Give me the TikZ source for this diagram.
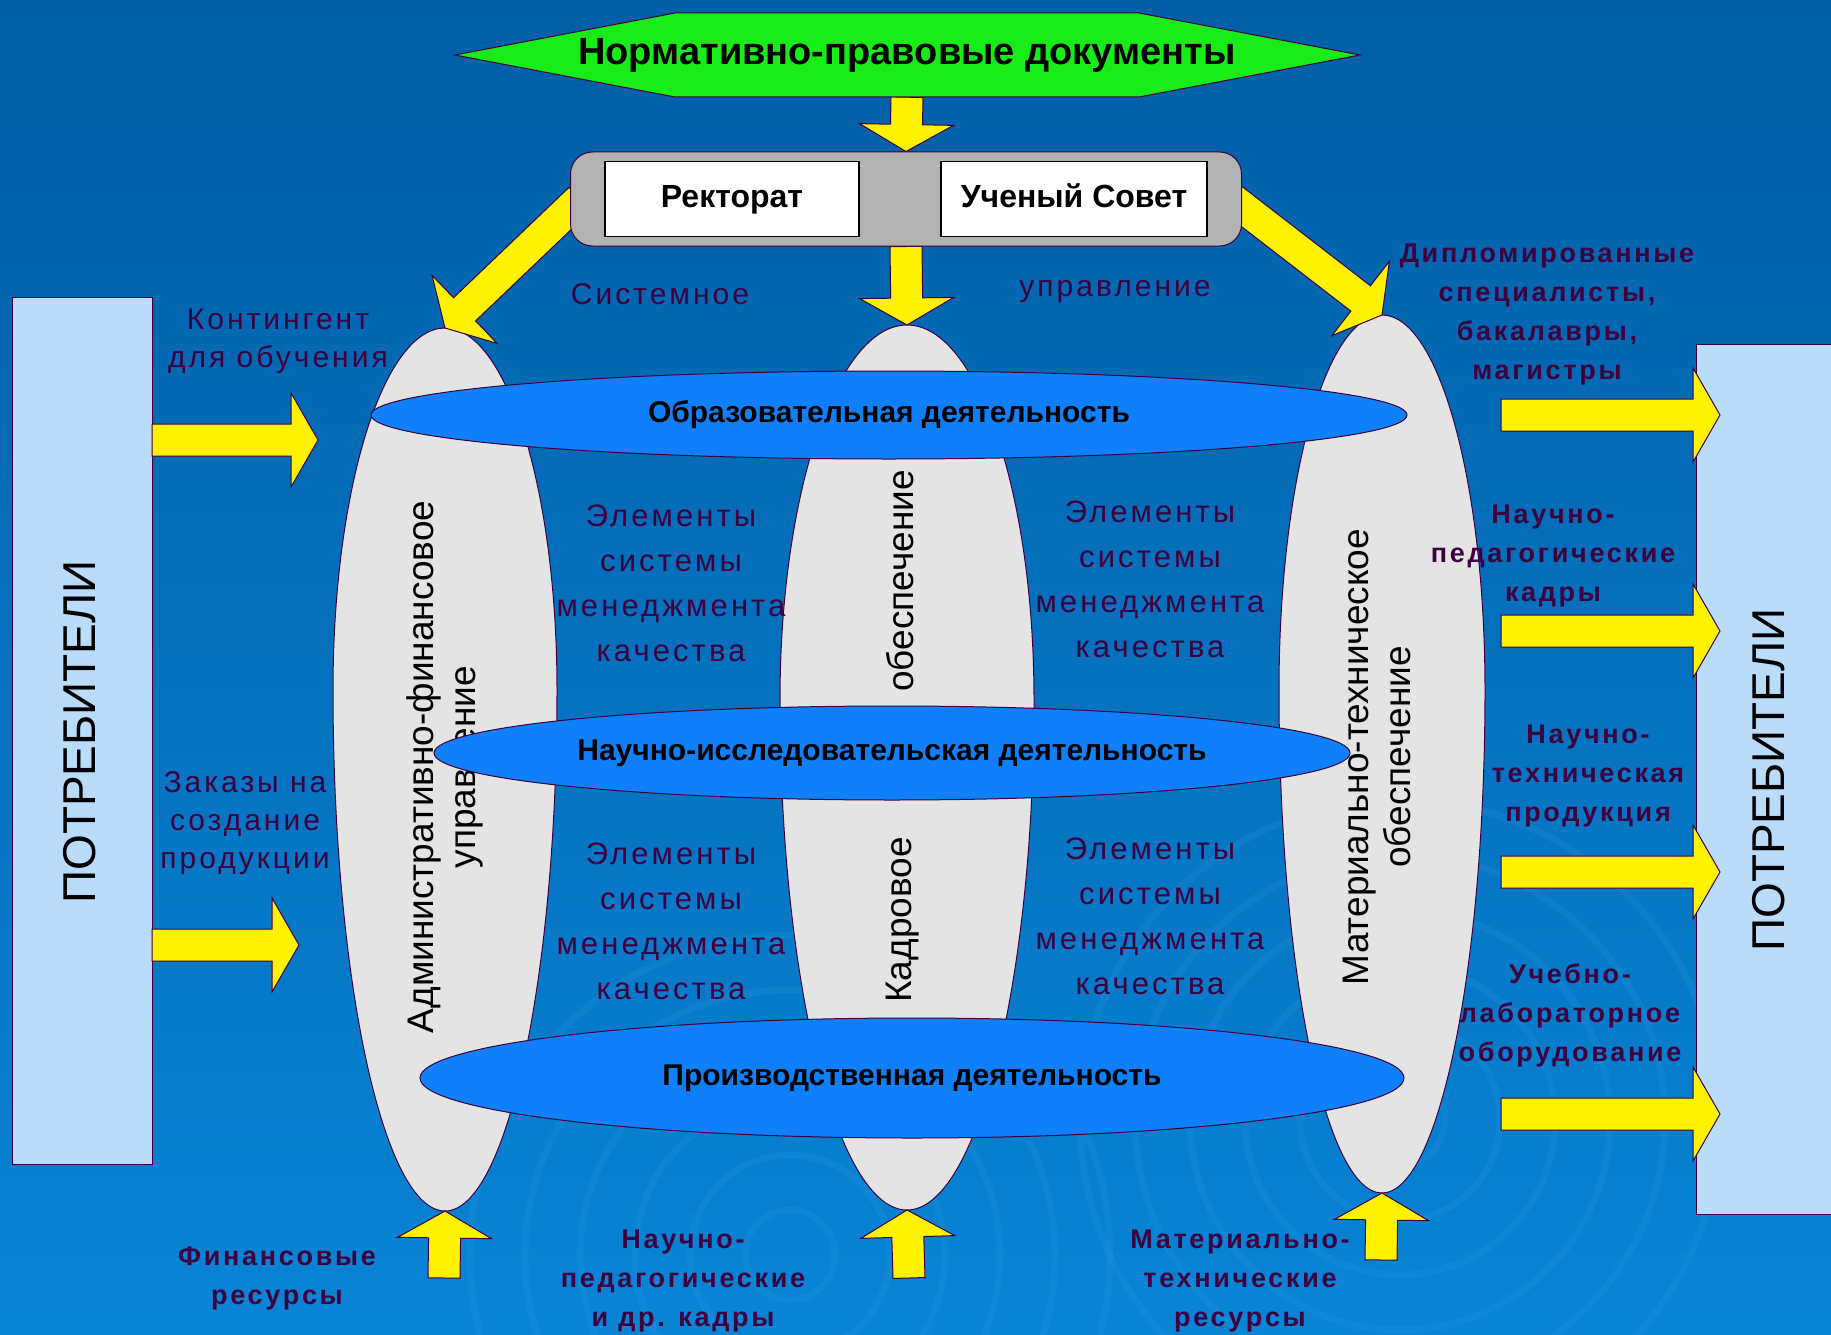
\documentclass[tikz,border=0pt]{standalone}
\usepackage{fontspec}
\setmainfont{Liberation Sans}
\newfontfamily\spaced[LetterSpace=10]{Liberation Sans}
\usetikzlibrary{shapes.geometric,calc}

\definecolor{bgtop}{RGB}{0,94,166}
\definecolor{bgbot}{RGB}{8,132,214}
\definecolor{outline}{RGB}{60,0,60}
\definecolor{labeltext}{RGB}{62,0,62}
\definecolor{consumerblue}{RGB}{184,220,250}
\definecolor{eggfill}{RGB}{228,228,228}
\definecolor{activityblue}{RGB}{16,128,250}
\definecolor{normgreen}{RGB}{24,236,24}
\definecolor{boardgray}{RGB}{178,178,178}
\definecolor{ripplecol}{RGB}{60,160,235}

\pgfdeclarelayer{front}
\pgfsetlayers{main,front}

\newcommand{\fsz}[2]{\fontsize{#1}{#2}\selectfont}

% fat arrow between two points
\newcommand{\blockarrow}[2]{%
  \draw[blockarrow] let \p1=(#1), \p2=(#2),
      \n1={atan2(\y2-\y1,\x2-\x1)}, \n2={veclen(\x2-\x1,\y2-\y1)} in
    [shift={(\p1)}, rotate=\n1]
    (0pt,16pt) -- ({\n2-27pt},16pt) -- ({\n2-27pt},47pt) -- (\n2,0pt)
    -- ({\n2-27pt},-47pt) -- ({\n2-27pt},-16pt) -- (0pt,-16pt) -- cycle;}

% egg: name, x, top, widest y, bottom, half width
\newcommand{\egg}[6]{%
  \draw[egg] (#2-#6,#4) arc[start angle=180, end angle=360, x radius=#6, y radius=#4-#3]
    arc[start angle=0, end angle=180, x radius=#6, y radius=#5-#4] -- cycle;
  \coordinate (#1-n) at (#2,#3);
  \coordinate (#1-s) at (#2,#5);}

\begin{document}
\begin{tikzpicture}[
    x=1pt, y=-1pt,
    lbl/.style={text=labeltext, align=center, font={\spaced\fsz{30}{38}}},
    blbl/.style={lbl, font={\spaced\bfseries\fsz{27}{39}}},
    elem/.style={lbl, font={\spaced\fsz{31}{45}}},
    vert/.style={rotate=90, align=center, font={\fsz{37}{42}}},
    consumer/.style={draw=outline, fill=consumerblue},
    consumer text/.style={rotate=90, font={\fsz{46}{50}}},
    egg/.style={draw=outline, fill=eggfill, line width=1pt},
    activity/.style={ellipse, draw=outline, fill=activityblue, line width=1pt,
                     inner sep=0pt, font={\bfseries\fsz{30}{36}}},
    office/.style={draw=black, line width=1.5pt, fill=white, text height=23pt, text depth=7pt,
                   font={\bfseries\fsz{32}{38}}},
    board/.style={draw=outline, fill=boardgray, rounded corners=22pt, line width=1pt},
    normshape/.style={draw=outline, fill=normgreen, line width=1pt},
    blockarrow/.style={draw=outline, fill=yellow, line width=1pt},
    ripple/.style={draw=ripplecol, opacity=0.16, line width=7pt}]

    % Фон
    \useasboundingbox (0,0) rectangle (1831,1335);
    \shade[top color=bgtop, bottom color=bgbot] (0,0) rectangle (1831,1335);
    \begin{scope}
        \clip (0,0) rectangle (1831,1335);
        \foreach \r in {45,100,...,320} {
            \draw[ripple] (790,1255) circle[radius=\r];
            \draw[ripple] (1400,1120) circle[radius=\r];
        }
    \end{scope}

    % Потребители
    \node[consumer, minimum width=140pt, minimum height=867pt] (consL) at (82,731) {};
    \node[consumer text] (consLtext) at (80,732) {ПОТРЕБИТЕЛИ};
    \node[consumer, minimum width=160pt, minimum height=870pt] (consR) at (1776,779) {};
    \node[consumer text] (consRtext) at (1769,780) {ПОТРЕБИТЕЛИ};

    % Обеспечение
    \egg{legg}{445}{328}{690}{1211}{112}
    \egg{megg}{907}{325}{700}{1210}{127}
    \egg{regg}{1382}{315}{690}{1193}{103}
    \node[vert] (admin) at (445,767) {Административно-финансовое\\управление};
    \node[vert] (staffA) at (903,920) {Кадровое};
    \node[vert] (staffB) at (900,581) {обеспечение};
    \node[vert] (material) at (1377,757) {Материально-техническое\\обеспечение};

    % Деятельность
    \node[activity, minimum width=1036pt, minimum height=88pt] (edu) at (889,415)
        {Образовательная деятельность};
    \node[activity, minimum width=916pt, minimum height=94pt] (research) at (892,753)
        {\makebox[0pt]{Научно-исследовательская деятельность}};
    \node[activity, minimum width=984pt, minimum height=120pt] (production) at (912,1078)
        {Производственная деятельность};

    % Управление
    \begin{pgfonlayer}{front}
        \draw[normshape] (455,55) -- (675,13) -- (1139,13) -- (1360,55)
                         -- (1139,97) -- (675,97) -- cycle;
        \node[minimum height=84pt, font={\bfseries\fsz{38}{44}}] (norm) at (907,55)
            {Нормативно-правовые документы};
        \node[board, minimum width=671pt, minimum height=94pt] (board) at (906,199) {};
        \node[office, minimum width=254pt, minimum height=75pt] (rector) at (732,199) {Ректорат};
        \node[office, minimum width=266pt, minimum height=75pt] (council) at (1074,199) {Ученый Совет};
    \end{pgfonlayer}

    % Стрелки
    \blockarrow{norm.south}{board.north}
    \blockarrow{board.south}{megg-n}
    \blockarrow{[xshift=10pt]board.west}{legg-n}
    \blockarrow{[xshift=-10pt]board.east}{regg-n}

    \coordinate (intake-tip) at (318,440);
    \coordinate (orders-tip) at (299,945);
    \blockarrow{consL.east |- intake-tip}{intake-tip}
    \blockarrow{consL.east |- orders-tip}{orders-tip}

    \coordinate (outtip) at (1720,0);
    \foreach \y [count=\i] in {415,631,872,1114} {
        \coordinate (out\i) at (1501,\y);
        \blockarrow{out\i}{out\i -| outtip}
    }

    \coordinate (fin-in) at (444,1278);
    \coordinate (staff-in) at (909,1278);
    \coordinate (mat-in) at (1381,1260);
    \blockarrow{fin-in}{legg-s}
    \blockarrow{staff-in}{megg-s}
    \blockarrow{mat-in}{regg-s}

    % Подписи
    \node[lbl] (systemic) at (660,294) {Системное};
    \node[lbl] (management) at (1115,292) {управление};
    \node[lbl] (intake) at (278,341) {Контингент\\для обучения};
    \node[lbl] (orders) at (245,823) {Заказы на\\создание\\продукции};
    \node[blbl] (graduates) at (1547,315) {Дипломированные\\специалисты,\\бакалавры,\\магистры};
    \node[blbl] (teachers) at (1553,556) {Научно-\\педагогические\\кадры};
    \node[blbl] (products) at (1588,776) {Научно-\\техническая\\продукция};
    \node[blbl] (equipment) at (1570,1015) {Учебно-\\лабораторное\\оборудование};
    \node[blbl] (finres) at (277,1278) {Финансовые\\ресурсы};
    \node[blbl] (staffres) at (683,1281) {Научно-\\педагогические\\и др. кадры};
    \node[blbl] (matres) at (1240,1281) {Материально-\\технические\\ресурсы};

    \foreach \x/\y [count=\i] in {671/583, 1150/579, 671/921, 1150/916}
        \node[elem] (qms\i) at (\x,\y) {Элементы\\системы\\менеджмента\\качества};
\end{tikzpicture}
\end{document}
